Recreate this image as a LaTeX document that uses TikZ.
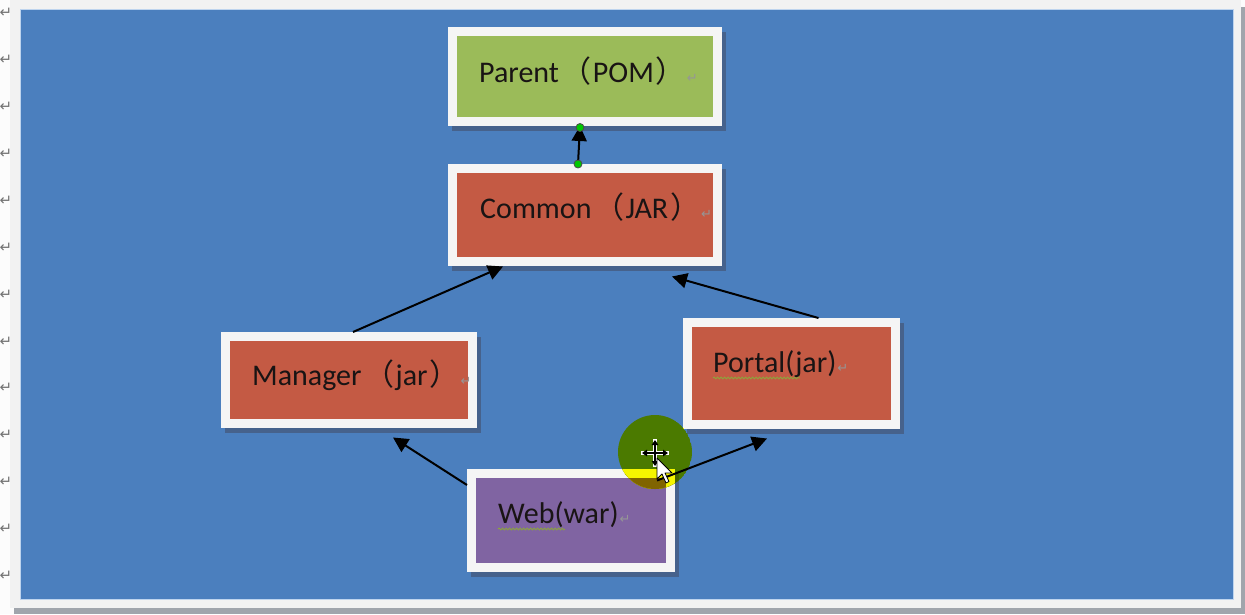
\documentclass[tikz,border=0pt]{standalone}
\usepackage{fontspec}
\setmainfont{Carlito}
\newfontfamily\cjk{Noto Sans CJK SC}
\newfontfamily\dvs{DejaVu Sans}
\usetikzlibrary{arrows.meta,calc,decorations.pathmorphing}
\definecolor{marginw}{RGB}{252,252,252}
\definecolor{bgblue}{RGB}{75,127,190}
\definecolor{bgedge}{RGB}{190,212,238}
\definecolor{pagegray}{RGB}{242,242,242}
\definecolor{edgegray}{RGB}{160,165,172}
\definecolor{shadowc}{RGB}{70,98,140}
\definecolor{boxwhite}{RGB}{245,245,245}
\definecolor{pgreen}{RGB}{155,187,89}
\definecolor{cred}{RGB}{196,90,68}
\definecolor{wpurple}{RGB}{128,100,162}
\definecolor{txt}{RGB}{25,20,20}
\definecolor{retgray}{RGB}{150,150,150}
\definecolor{margray}{RGB}{115,115,115}
\definecolor{dotgreen}{RGB}{0,200,0}
\definecolor{squig}{RGB}{140,165,60}
\definecolor{hlg}{RGB}{75,122,0}
\definecolor{hly}{RGB}{245,245,0}
\definecolor{hlo}{RGB}{128,100,0}
\definecolor{hls}{RGB}{70,98,0}
\definecolor{hlr}{RGB}{196,90,0}
\newcommand\flp{\hspace{3pt}{\cjk （}\hspace{1pt}}
\newcommand\frp{\hspace{2pt}{\cjk ）}}
\newcommand\retmark{\hspace{1pt}{\dvs\color{retgray}\fontsize{13}{13}\selectfont ↵}}
% name, x1, y1, x2, y2 (outer edges, pixels), fill colour
\newcommand\mybox[6]{%
  \fill[shadowc] (#2+4,#3+5) rectangle (#4+4,#5+5);
  \node[boxs, fill=#6, minimum width={#4-#2-9}, minimum height={#5-#3-9}]
    (#1) at ({(#2+#4)/2},{(#3+#5)/2}) {};
}
\tikzset{
  boxs/.style={draw=boxwhite, line width=9pt, inner sep=0pt, rectangle},
  lbl/.style={anchor=base west, inner sep=0pt, text=txt, font=\fontsize{30}{36}\selectfont},
  retm/.style={inner sep=0pt, text=margray, font=\dvs\fontsize{15}{15}\selectfont},
  arr/.style={line width=2pt, draw=black, -{Triangle[length=15pt,width=15pt]}},
  gdot/.style={fill=dotgreen, draw=black!70, line width=0.8pt},
  squiggle/.style={draw=squig, line width=0.8pt, decorate,
    decoration={snake, amplitude=1pt, segment length=3.5pt}},
}
\begin{document}
\begin{tikzpicture}[x=1pt,y=-1pt]
\useasboundingbox (0,0) rectangle (1245,614);
% page
\fill[marginw] (0,0) rectangle (1245,614);
\fill[pagegray] (10,0) rectangle (1241,608);
\fill[edgegray] (1241,7) rectangle (1245,614);
\fill[edgegray] (14,608) rectangle (1245,614);
\fill[bgblue] (20,9) rectangle (1233,599);
\draw[bgedge, line width=1pt] (20,9) rectangle (1233,599);
\foreach \i in {0,...,12} \node[retm] (m\i) at (6,{13+46.9*\i}) {↵};
% boxes
\mybox{parent}{448}{27}{722}{126}{pgreen}
\mybox{common}{448}{164}{722}{266}{cred}
\mybox{manager}{221}{332}{477}{428}{cred}
\mybox{portal}{683}{318}{900}{429}{cred}
\mybox{web}{467}{469}{675}{572}{wpurple}
% labels
\node[lbl] (tparent) at (479,82) {Parent\flp POM\frp\retmark};
\node[lbl] (tcommon) at (480,218) {Common\flp JAR\frp\retmark};
\node[lbl] (tmanager) at (252,385) {Manager\flp jar\frp\retmark};
\node[lbl] (tportal) at (713,372) {Portal(jar)\retmark};
\node[lbl] (tweb) at (498,523) {Web(war)\retmark};
\draw[squiggle] (713,378) -- (800,378);
\draw[squiggle] (498,529) -- (565,529);
% highlight circle (multiply look)
\begin{scope}
  \clip (655,452) circle (37pt);
  \fill[hlg] (655,452) circle (37pt);
  \fill[hls] (471,474) rectangle (679,577);
  \fill[hls] (687,323) rectangle (904,434);
  \fill[hly] (467,469) rectangle (675,572);
  \fill[hlo] (477,478) rectangle (666,563);
  \fill[hly] (683,318) rectangle (900,429);
  \fill[hlr] (692,327) rectangle (891,420);
\end{scope}
% connectors
\draw[arr] ([xshift=-7pt]common.north) -- ([xshift=-5pt]parent.south);
\draw[arr] ([xshift=4pt]manager.north) -- ([xshift=-82pt,yshift=-0.5pt]common.south);
\draw[arr] ([xshift=27pt]portal.north) -- ([xshift=87pt,yshift=-10.5pt]common.south);
\draw[arr] ([yshift=35.5pt]web.west) -- ([xshift=44pt,yshift=-9.5pt]manager.south);
\draw[arr] ([xshift=86pt,yshift=-11.5pt]web.north) -- ([xshift=-24.5pt,yshift=-9.5pt]portal.south);
\filldraw[gdot] ([xshift=-7pt]common.north) circle (4pt);
\filldraw[gdot] ([xshift=-5pt,yshift=-1.5pt]parent.south) circle (4pt);
% cursor
\draw[white, line width=3.5pt] (641,453) -- (669,453) (655,439) -- (655,467);
\draw[black, line width=1.1pt, {Triangle[length=5pt,width=6.5pt]}-{Triangle[length=5pt,width=6.5pt]}] (642,453) -- (668,453);
\draw[black, line width=1.1pt, {Triangle[length=5pt,width=6.5pt]}-{Triangle[length=5pt,width=6.5pt]}] (655,440) -- (655,466);
\filldraw[fill=white, draw=black, line width=0.8pt, line join=round]
  (657,458) -- ++(0,21) -- ++(5,-5) -- ++(4,9) -- ++(3,-1.5) -- ++(-4,-8.5) -- ++(7,0) -- cycle;
\end{tikzpicture}
\end{document}
